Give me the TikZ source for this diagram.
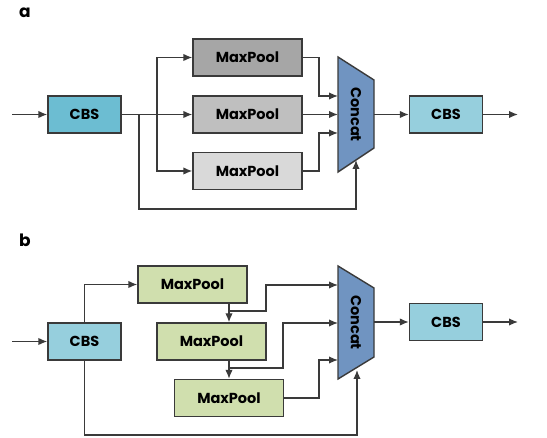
\documentclass[tikz,border=0pt]{standalone}
\usepackage{fontspec}
\setmainfont{Poppins}
\usetikzlibrary{arrows.meta}
\definecolor{cbsdark}{HTML}{6CBDD2}
\definecolor{cbslight}{HTML}{96CFDD}
\definecolor{mpone}{HTML}{A6A6A6}
\definecolor{mptwo}{HTML}{BFBFBF}
\definecolor{mpthree}{HTML}{D9D9D9}
\definecolor{mpgreen}{HTML}{D0DFAE}
\definecolor{concatc}{HTML}{7094C1}
\definecolor{linec}{HTML}{3A3A3A}
\begin{document}
\begin{tikzpicture}[x=1pt,y=-1pt,
  blk/.style={draw=linec,line width=1.4pt,minimum height=37pt,inner sep=0pt,font=\fontsize{14.5}{14.5}\selectfont\bfseries},
  cbsbox/.style={blk,minimum width=73pt},
  mpbox/.style={blk,minimum width=109pt},
  conn/.style={draw=linec,line width=1.4pt},
  arr/.style={conn,-{Latex[length=9pt,width=7.5pt]}},
  trap/.style={draw=linec,line width=1.4pt,fill=concatc},
  ctext/.style={rotate=-90,font=\fontsize{14.5}{14.5}\selectfont\bfseries},
  lbl/.style={font=\fontsize{17}{17}\selectfont\bfseries}]
\useasboundingbox (0,0) rectangle (547,438);

% ---------------- panel a ----------------
\node[lbl] (la) at (25,13) {a};
\node[cbsbox,fill=cbsdark] (cbsA1) at (84.5,114.5) {CBS};
\node[mpbox,fill=mpone] (mpA1) at (247.5,57.5) {MaxPool};
\node[mpbox,fill=mptwo] (mpA2) at (247.5,114.5) {MaxPool};
\node[mpbox,fill=mpthree] (mpA3) at (247.5,171) {MaxPool};
\draw[trap] (338,57) -- (374,80) -- (374,148) -- (338,172) -- cycle;
\node[ctext] (concatA) at (356,114.5) {Concat};
\node[cbsbox,fill=cbslight] (cbsA2) at (446,114.5) {CBS};
\coordinate (inA) at (12,114.5);
\coordinate (outA) at (518,114.5);
\coordinate (brA) at (157,114.5);
\coordinate (skA) at (139,114.5);
\coordinate (cA1) at (338,96);
\coordinate (cA2) at (338,114.5);
\coordinate (cA3) at (338,133);
\coordinate (cAb) at (356,160);
\coordinate (cAr) at (374,114.5);

\draw[arr] (inA) -- (cbsA1.west);
\draw[arr] (cbsA1.east) -- (mpA2.west);
\draw[arr] (brA) |- (mpA1.west);
\draw[arr] (brA) |- (mpA3.west);
\draw[arr] (skA) -- (139,209) -| (cAb);
\draw[arr] (mpA1.east) -- (319,57.5) |- (cA1);
\draw[arr] (mpA2.east) -- (cA2);
\draw[arr] (mpA3.east) -- (319,171) |- (cA3);
\draw[arr] (cAr) -- (cbsA2.west);
\draw[arr] (cbsA2.east) -- (outA);

% ---------------- panel b ----------------
\node[lbl] (lb) at (25,240) {b};
\node[cbsbox,fill=cbslight] (cbsB1) at (84.5,341.5) {CBS};
\node[mpbox,fill=mpgreen] (mpB1) at (192.5,284.5) {MaxPool};
\node[mpbox,fill=mpgreen] (mpB2) at (211.5,341.5) {MaxPool};
\node[mpbox,fill=mpgreen] (mpB3) at (229,398) {MaxPool};
\draw[trap] (338,266) -- (374,288) -- (374,357) -- (338,379) -- cycle;
\node[ctext] (concatB) at (356,322.5) {Concat};
\node[cbsbox,fill=cbslight] (cbsB2) at (446,322) {CBS};
\coordinate (inB) at (12,341.5);
\coordinate (outB) at (518,322);
\coordinate (dB1) at (229,303);
\coordinate (dB2) at (229,360);
\coordinate (jB1) at (229,311);
\coordinate (jB2) at (229,368);
\coordinate (cB1) at (338,285);
\coordinate (cB2) at (338,323);
\coordinate (cB3) at (338,360);
\coordinate (cBb) at (357,370);
\coordinate (cBr) at (374,322);

\draw[arr] (inB) -- (cbsB1.west);
\draw[arr] (cbsB1.north) |- (mpB1.west);
\draw[arr] (dB1) -- (dB1 |- mpB2.north);
\draw[arr] (jB1) -- (266,311) |- (cB1);
\draw[arr] (dB2) -- (mpB3.north);
\draw[arr] (jB2) -- (283,368) |- (cB2);
\draw[arr] (mpB3.east) -- (319,398) |- (cB3);
\draw[arr] (cbsB1.south) |- (357,435) -- (cBb);
\draw[arr] (cBr) -- (cbsB2.west);
\draw[arr] (cbsB2.east) -- (outB);
\end{tikzpicture}
\end{document}
